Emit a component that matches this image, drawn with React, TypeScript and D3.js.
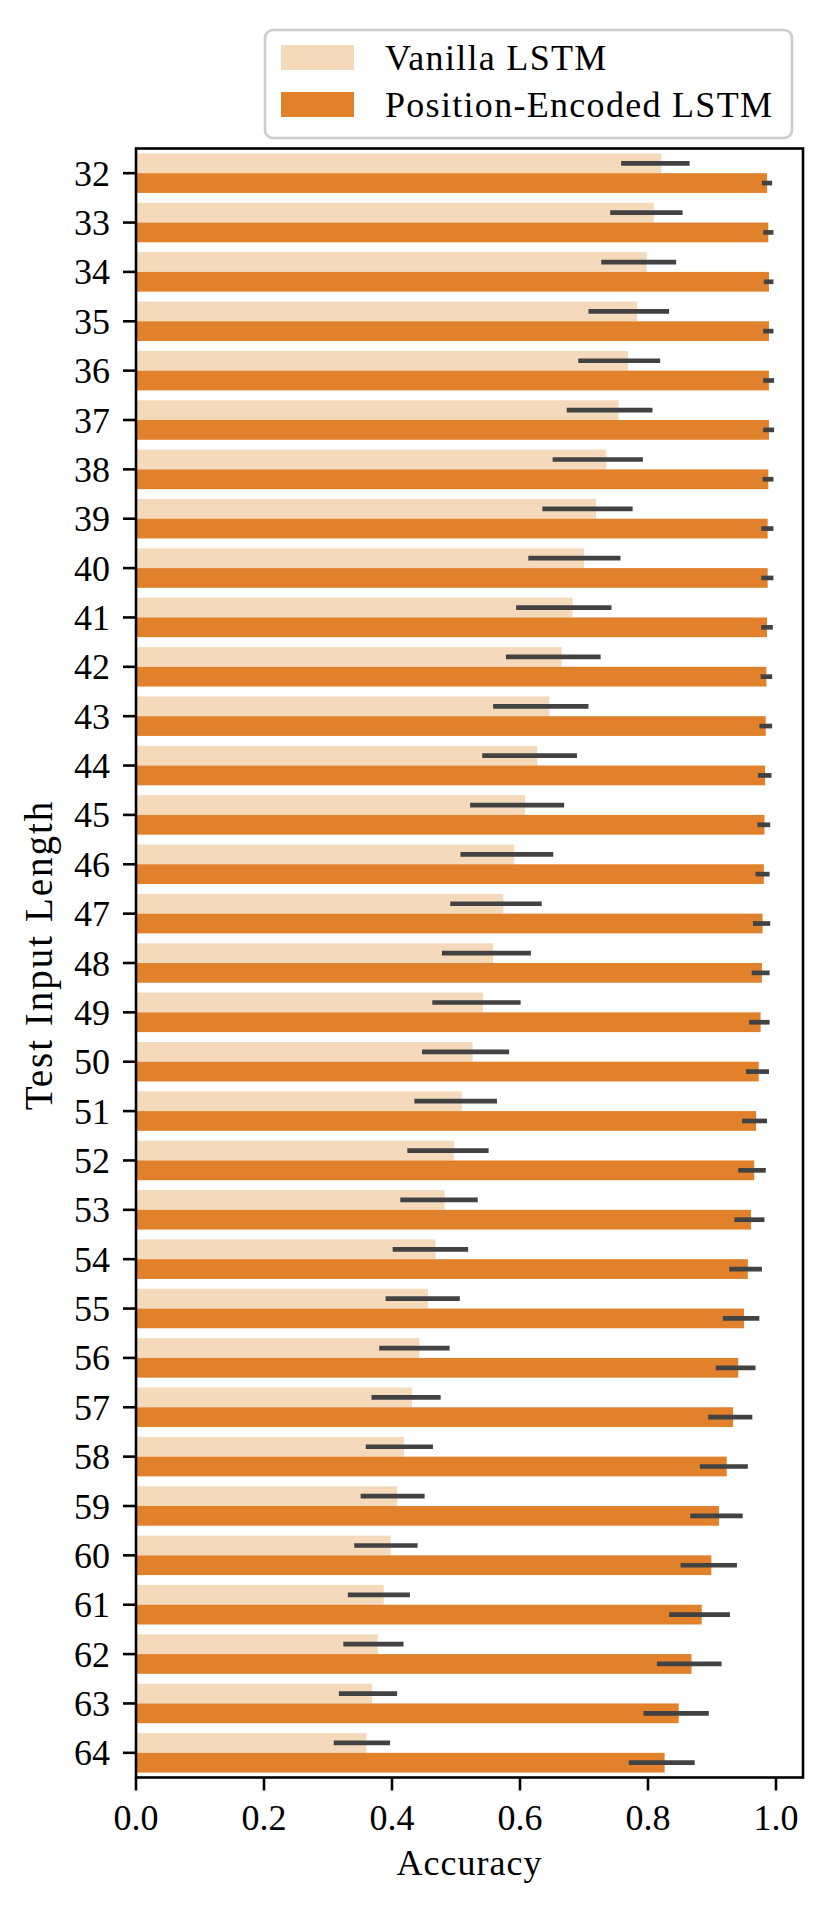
import React from "react";
import * as d3 from "d3";

// Test input lengths (y categories)
const lengths = [
  32, 33, 34, 35, 36, 37, 38, 39, 40, 41, 42, 43, 44, 45, 46, 47, 48,
  49, 50, 51, 52, 53, 54, 55, 56, 57, 58, 59, 60, 61, 62, 63, 64,
];

// Vanilla LSTM mean accuracy and CI bounds
const vanillaAcc = [
  0.821, 0.809, 0.798, 0.783, 0.769, 0.754, 0.735, 0.719, 0.7, 0.682, 0.665,
  0.646, 0.627, 0.608, 0.591, 0.574, 0.558, 0.542, 0.526, 0.509, 0.497, 0.482,
  0.468, 0.456, 0.443, 0.431, 0.419, 0.408, 0.398, 0.387, 0.378, 0.369, 0.36,
];
const vanillaLo = [
  0.758, 0.741, 0.727, 0.707, 0.691, 0.673, 0.651, 0.635, 0.613, 0.594, 0.578,
  0.558, 0.541, 0.522, 0.507, 0.491, 0.478, 0.463, 0.447, 0.435, 0.424, 0.413,
  0.401, 0.39, 0.38, 0.368, 0.359, 0.351, 0.341, 0.331, 0.324, 0.317, 0.309,
];
const vanillaHi = [
  0.865, 0.854, 0.844, 0.833, 0.819, 0.807, 0.792, 0.776, 0.757, 0.743, 0.726,
  0.707, 0.689, 0.669, 0.652, 0.634, 0.617, 0.601, 0.583, 0.564, 0.551, 0.534,
  0.519, 0.506, 0.49, 0.476, 0.464, 0.451, 0.44, 0.428, 0.418, 0.408, 0.397,
];

// Position-Encoded LSTM mean accuracy and CI bounds
const peAcc = [
  0.986, 0.988, 0.989, 0.989, 0.989, 0.989, 0.988, 0.987, 0.987, 0.986, 0.985,
  0.984, 0.983, 0.982, 0.981, 0.979, 0.978, 0.976, 0.973, 0.969, 0.966, 0.961,
  0.956, 0.95, 0.941, 0.933, 0.923, 0.911, 0.899, 0.884, 0.868, 0.848, 0.826,
];
const peLo = [
  0.978, 0.98, 0.981, 0.98, 0.98, 0.98, 0.979, 0.977, 0.977, 0.977, 0.976,
  0.974, 0.972, 0.971, 0.968, 0.964, 0.962, 0.958, 0.953, 0.947, 0.941, 0.935,
  0.927, 0.917, 0.906, 0.894, 0.881, 0.866, 0.851, 0.833, 0.814, 0.793, 0.77,
];
const peHi = [
  0.994, 0.996, 0.996, 0.996, 0.997, 0.997, 0.996, 0.996, 0.996, 0.995, 0.994,
  0.994, 0.993, 0.991, 0.99, 0.991, 0.99, 0.99, 0.989, 0.986, 0.984, 0.982,
  0.978, 0.974, 0.968, 0.963, 0.956, 0.948, 0.939, 0.928, 0.915, 0.895, 0.873,
];

const xTicks = [0, 0.2, 0.4, 0.6, 0.8, 1.0];
const seriesNames = ["Vanilla LSTM", "Position-Encoded LSTM"];

const W = 829;
const H = 1907;
const FONT = "'Liberation Serif', 'Times New Roman', serif";
const LIGHT = "#f5d9bb";
const DARK = "#e1812c";
const ERR = "#424242";

export default function App() {
  const margin = { left: 136, right: 803, top: 148.5, bottom: 1777.5 };

  const x = d3.scaleLinear().domain([0, 1.0422]).range([margin.left, margin.right]);
  const y = d3
    .scaleBand<number>()
    .domain(lengths)
    .range([margin.top, margin.bottom])
    .paddingInner(0)
    .paddingOuter(0);

  const step = y.step();
  const barH = (step * 0.8) / 2;

  const series = [
    { name: seriesNames[0], color: LIGHT, acc: vanillaAcc, lo: vanillaLo, hi: vanillaHi, off: -1 },
    { name: seriesNames[1], color: DARK, acc: peAcc, lo: peLo, hi: peHi, off: 0 },
  ];

  const fmt = d3.format(".1f");

  return (
    <svg
      width={W}
      height={H}
      style={{ position: "absolute", left: 0, top: 0, background: "#fff" }}
      fontFamily={FONT}
    >
      {/* bars */}
      {series.map(s =>
        lengths.map((len, i) => {
          const c = (y(len) ?? 0) + step / 2;
          const top = c + s.off * barH;
          return (
            <rect
              key={s.name + len}
              x={x(0)}
              y={top}
              width={x(s.acc[i]) - x(0)}
              height={barH}
              fill={s.color}
            />
          );
        })
      )}

      {/* error bars */}
      {series.map(s =>
        lengths.map((len, i) => {
          const c = (y(len) ?? 0) + step / 2;
          const cy = c + s.off * barH + barH / 2;
          return (
            <line
              key={"e" + s.name + len}
              x1={x(s.lo[i])}
              x2={x(s.hi[i])}
              y1={cy}
              y2={cy}
              stroke={ERR}
              strokeWidth={4.7}
            />
          );
        })
      )}

      {/* frame */}
      <rect
        x={margin.left}
        y={margin.top}
        width={margin.right - margin.left}
        height={margin.bottom - margin.top}
        fill="none"
        stroke="#000"
        strokeWidth={2.6}
      />

      {/* y ticks */}
      {lengths.map(len => {
        const c = (y(len) ?? 0) + step / 2;
        return (
          <g key={"yt" + len}>
            <line x1={margin.left - 13} x2={margin.left} y1={c} y2={c} stroke="#000" strokeWidth={2.6} />
            <text x={110} y={c + 12.5} textAnchor="end" fontSize={36} fill="#000">
              {len}
            </text>
          </g>
        );
      })}

      {/* x ticks */}
      {xTicks.map(t => (
        <g key={"xt" + t}>
          <line x1={x(t)} x2={x(t)} y1={margin.bottom} y2={margin.bottom + 13} stroke="#000" strokeWidth={2.6} />
          <text x={x(t)} y={1830} textAnchor="middle" fontSize={36} fill="#000">
            {fmt(t)}
          </text>
        </g>
      ))}

      {/* axis labels */}
      <text
        x={(margin.left + margin.right) / 2}
        y={1875}
        textAnchor="middle"
        fontSize={36}
        letterSpacing={1}
        fill="#000"
      >
        Accuracy
      </text>
      <text
        transform={`translate(52,955) rotate(-90)`}
        textAnchor="middle"
        fontSize={39}
        letterSpacing={2}
        fill="#000"
      >
        Test Input Length
      </text>

      {/* legend */}
      <rect x={265} y={30} width={527} height={108} rx={8} fill="#fff" fillOpacity={0.8} stroke="#cccccc" strokeWidth={2.6} />
      {series.map((s, i) => (
        <g key={"lg" + s.name}>
          <rect x={281} y={45 + i * 47} width={73} height={25} fill={s.color} />
          <text x={385} y={70 + i * 47} fontSize={36} letterSpacing={1.3} fill="#000">
            {s.name}
          </text>
        </g>
      ))}
    </svg>
  );
}
